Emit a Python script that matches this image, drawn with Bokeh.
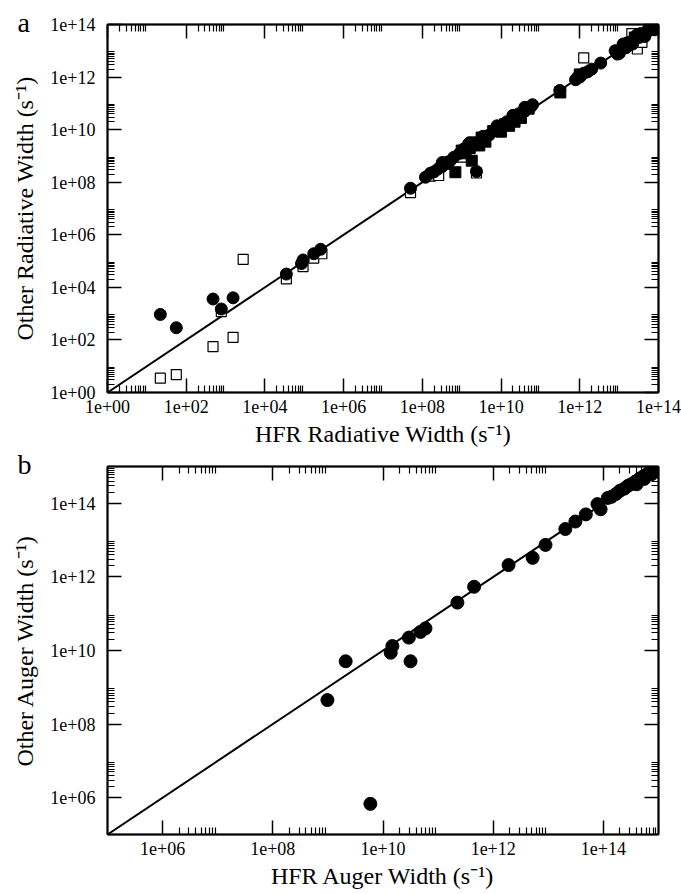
from bokeh.plotting import figure
from bokeh.models import LogAxis, FixedTicker, CustomJSTickFormatter, Range1d
from bokeh.layouts import column
from bokeh.embed import file_html
from bokeh.resources import INLINE

# ---------------- Panel a : radiative widths ----------------
rad_circle_x = [2.2e1, 5.6e1, 4.8e2, 7.8e2, 1.55e3, 3.5e4, 8.5e4, 9.3e4, 1.74e5, 2.6e5,
                5.0e7, 1.2e8, 1.6e8, 2.0e8, 2.5e8, 3.2e8, 3.2e8, 4.0e8, 5.0e8, 6.3e8, 8.9e8,
                1.1e9, 1.5e9, 1.6e9, 2.0e9, 2.5e9, 2.37e9, 3.5e9, 5.0e9, 7.1e9, 7.9e9,
                1.0e10, 1.4e10, 2.0e10, 2.0e10, 2.8e10, 4.0e10, 4.0e10, 4.5e10, 5.6e10, 6.3e10,
                3.1e11, 7.8e11, 8.9e11, 1.0e12, 1.26e12, 1.6e12, 2.0e12, 3.4e12,
                7.9e12, 9.0e12, 1.0e13, 1.26e13, 1.26e13, 1.5e13, 1.6e13, 2.0e13, 2.2e13,
                2.5e13, 2.8e13, 3.2e13, 3.5e13, 4.0e13, 4.5e13, 5.0e13, 5.6e13, 6.0e13,
                6.3e13, 7.1e13, 7.9e13, 8.5e13, 8.9e13]
rad_circle_y = [9.3e2, 2.9e2, 3.6e3, 1.5e3, 4.0e3, 3.2e4, 8.0e4, 1.1e5, 1.9e5, 2.8e5,
                5.9e7, 1.55e8, 2.2e8, 2.5e8, 3.2e8, 4.0e8, 5.6e8, 5.6e8, 6.3e8, 8.9e8, 1.26e9,
                1.8e9, 2.9e9, 3.2e9, 3.2e9, 3.2e9, 2.57e8, 5.6e9, 6.3e9, 1.0e10, 1.4e10,
                1.26e10, 2.0e10, 2.5e10, 3.5e10, 4.0e10, 5.0e10, 7.1e10, 6.3e10, 7.1e10, 8.9e10,
                3.1e11, 7.9e11, 1.0e12, 1.0e12, 1.4e12, 1.6e12, 2.0e12, 3.4e12,
                1.0e13, 7.5e12, 7.9e12, 1.26e13, 1.8e13, 1.3e13, 2.0e13, 2.2e13, 1.8e13,
                2.8e13, 4.0e13, 3.2e13, 4.5e13, 4.2e13, 3.5e13, 5.0e13, 7.1e13, 6.3e13,
                8.9e13, 7.1e13, 6.3e13, 8.5e13, 8.9e13]

rad_fsq_x = [6.9e8, 1.8e9, 4.0e8, 1.0e9, 1.26e9, 1.6e9, 2.8e9, 3.2e9, 4.0e9, 6.3e9, 8.0e9,
             1.0e10, 1.26e10, 1.6e10, 2.2e10, 2.5e10, 3.2e10, 5.0e10, 3.2e11, 1.0e12,
             1.0e13, 2.5e13, 4.0e13, 6.3e13]
rad_fsq_y = [2.4e8, 6.6e8, 5.0e8, 1.6e9, 1.26e9, 2.0e9, 2.5e9, 5.0e9, 3.5e9, 8.9e9, 1.0e10,
             8.9e9, 1.6e10, 1.4e10, 2.0e10, 3.2e10, 2.8e10, 6.3e10, 2.6e11, 1.26e12,
             1.0e13, 3.2e13, 4.0e13, 6.3e13]

rad_osq_x = [2.2e1, 5.6e1, 4.8e2, 7.8e2, 1.55e3, 2.8e3, 3.5e4, 9.3e4, 1.74e5, 2.8e5,
             5.0e7, 1.6e8, 2.6e8, 1.0e9, 2.37e9, 1.0e10, 1.26e12, 2.1e13, 2.9e13, 3.8e13]
rad_osq_y = [3.5e0, 4.8e0, 5.6e1, 1.2e3, 1.26e2, 1.17e5, 2.1e4, 6.2e4, 1.3e5, 1.9e5,
             4.0e7, 1.7e8, 1.8e8, 9.0e8, 2.24e8, 8.0e9, 5.4e12, 4.5e13, 1.17e13, 2.1e13]

rad_line = [1e0, 1e14]

# ---------------- Panel b : Auger widths ----------------
aug_x = [9.8e8, 2.1e9, 5.9e9, 1.38e10, 1.48e10, 2.95e10, 3.16e10, 4.8e10, 5.9e10,
         2.24e11, 4.5e11, 1.9e12, 5.2e12, 8.9e12, 2.04e13, 3.1e13, 4.8e13, 7.8e13,
         8.9e13, 1.2e14, 1.4e14, 1.7e14, 2.0e14, 2.4e14, 2.8e14, 3.2e14, 3.8e14,
         4.0e14, 4.5e14, 5.2e14, 5.5e14, 6.0e14, 7.0e14, 7.5e14, 8.0e14]
aug_y = [4.5e8, 5.1e9, 6.8e5, 8.7e9, 1.32e10, 2.24e10, 5.1e9, 3.2e10, 4.0e10,
         2.0e11, 5.4e11, 2.1e12, 3.3e12, 7.4e12, 2.0e13, 3.2e13, 5.0e13, 9.5e13,
         6.9e13, 1.4e14, 1.5e14, 1.8e14, 2.2e14, 2.5e14, 3.0e14, 3.3e14, 3.9e14,
         3.3e14, 4.6e14, 5.3e14, 4.6e14, 6.0e14, 7.2e14, 6.2e14, 8.0e14]
aug_line = [1e5, 1e15]

FONT = "Liberation Serif"

fmt_code = """
const e = Math.round(Math.log10(tick));
const a = Math.abs(e);
return "1e" + (e < 0 ? "-" : "+") + (a < 10 ? "0" : "") + a;
"""


def ticks(lo, hi):
    major = [10.0 ** e for e in range(lo, hi + 1) if e % 2 == 0]
    minor = [k * 10.0 ** e for e in range(lo, hi) if e % 2 == 0 for k in range(2, 10)]
    return major, minor


def style_axis(ax, major, minor, visible_labels):
    ax.ticker = FixedTicker(ticks=major, minor_ticks=minor)
    ax.major_tick_in = 14
    ax.major_tick_out = 0
    ax.minor_tick_in = 7
    ax.minor_tick_out = 0
    ax.axis_line_width = 2
    ax.axis_line_color = "black"
    ax.major_tick_line_width = 1.5
    ax.major_tick_line_color = "black"
    ax.minor_tick_line_width = 1.2
    ax.minor_tick_line_color = "black"
    if visible_labels:
        ax.formatter = CustomJSTickFormatter(code=fmt_code)
        ax.major_label_text_font = FONT
        ax.major_label_text_font_size = "18px"
        ax.major_label_text_color = "black"
        ax.axis_label_text_font = FONT
        ax.axis_label_text_font_size = "24px"
        ax.axis_label_text_font_style = "normal"
        ax.axis_label_text_color = "black"
    else:
        ax.formatter = CustomJSTickFormatter(code="return '';")
        ax.major_label_text_font_size = "0px"
        ax.major_label_standoff = 0


def make_fig(lo, hi, xlabel, ylabel, mb_top, mb_bottom, letter):
    p = figure(x_axis_type="log", y_axis_type="log",
               x_range=Range1d(10.0 ** lo, 10.0 ** hi), y_range=Range1d(10.0 ** lo, 10.0 ** hi),
               frame_width=551, frame_height=368,
               min_border_left=107, min_border_right=23, min_border_top=mb_top,
               min_border_bottom=mb_bottom, title=letter,
               output_backend="svg", toolbar_location=None)
    p.title.align = "left"
    p.title.offset = -90
    p.title.standoff = -26
    p.title.vertical_align = "bottom"
    p.title.text_font = FONT
    p.title.text_font_size = "28px"
    p.title.text_font_style = "normal"
    p.title.text_color = "black"
    p.grid.visible = False
    p.outline_line_color = "black"
    p.outline_line_width = 1.5
    major, minor = ticks(lo, hi)
    style_axis(p.xaxis[0], major, minor, True)
    style_axis(p.yaxis[0], major, minor, True)
    p.xaxis[0].axis_label = xlabel
    p.yaxis[0].axis_label = ylabel
    p.xaxis[0].major_label_standoff = 7
    p.yaxis[0].major_label_standoff = 12
    p.xaxis[0].axis_label_standoff = 5
    p.yaxis[0].axis_label_standoff = 9
    top = LogAxis()
    right = LogAxis()
    style_axis(top, major, minor, False)
    style_axis(right, major, minor, False)
    p.add_layout(top, "above")
    p.add_layout(right, "right")
    return p


p1 = make_fig(0, 14, "HFR Radiative Width (s\u207b\u00b9)", "Other Radiative Width (s\u207b\u00b9)",
              24, 58, "a")
p1.line(rad_line, rad_line, line_color="black", line_width=2)
p1.scatter(rad_osq_x, rad_osq_y, marker="square", size=10, fill_color="white",
           line_color="black", line_width=1.2)
p1.scatter(rad_fsq_x, rad_fsq_y, marker="square", size=11, fill_color="black",
           line_color="black")
p1.scatter(rad_circle_x, rad_circle_y, marker="circle", size=12, fill_color="black",
           line_color="black")

p2 = make_fig(5, 15, "HFR Auger Width (s\u207b\u00b9)", "Other Auger Width (s\u207b\u00b9)",
              16, 58, "b")
p2.line(aug_line, aug_line, line_color="black", line_width=2)
p2.scatter(aug_x, aug_y, marker="circle", size=13, fill_color="black", line_color="black")

layout = column(p1, p2, spacing=0)
open("out.html", "w").write(file_html(layout, INLINE))
